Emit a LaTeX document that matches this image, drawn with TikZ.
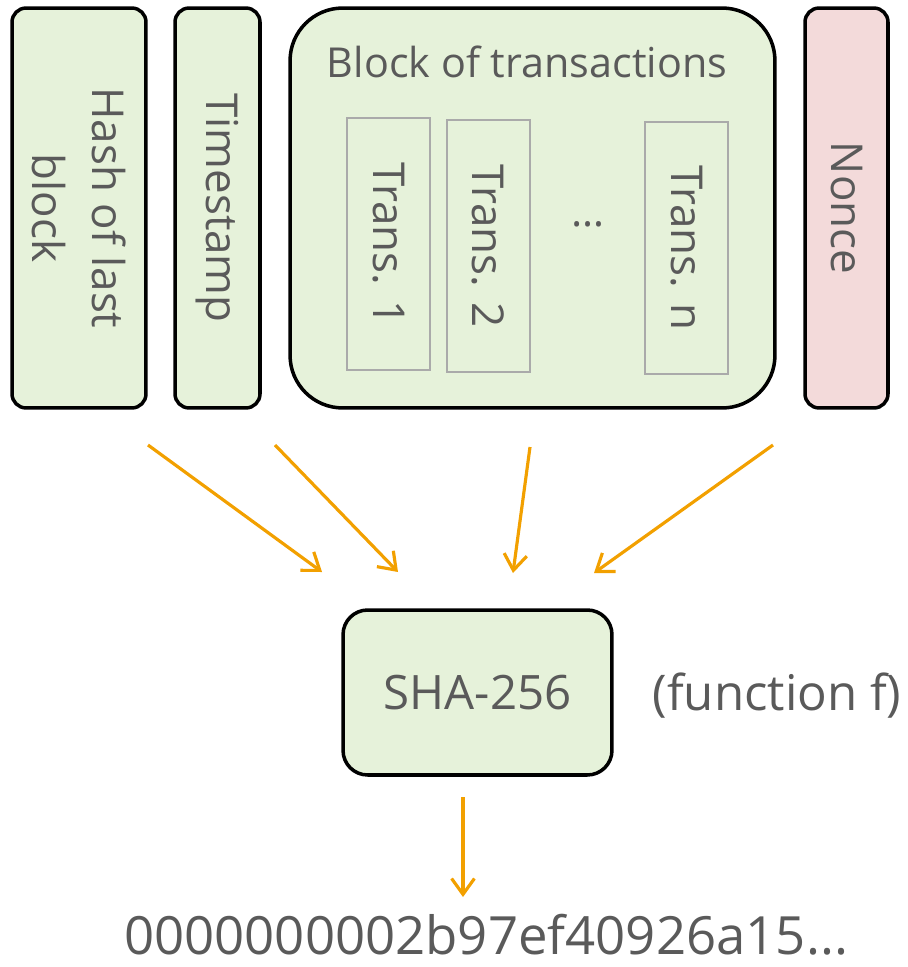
\documentclass[tikz,border=0pt]{standalone}
\usepackage{fontspec}
\setmainfont{Open Sans}
\usepackage{tikz}
\usetikzlibrary{arrows.meta, positioning}
\definecolor{fieldgreen}{RGB}{230,242,218}
\definecolor{noncepink}{RGB}{243,218,218}
\definecolor{flowline}{RGB}{242,160,0}
\definecolor{gray90}{RGB}{90,90,90}
\definecolor{gray170}{RGB}{170,170,170}

\tikzset{
  field/.style={draw=black, line width=2pt, fill=fieldgreen,
    rounded corners=8pt, inner sep=0pt, text=gray90, align=center,
    font=\fontsize{25}{34}\selectfont},
  transbox/.style={draw=gray170, line width=0.9pt, inner sep=0pt,
    rotate=-90, minimum width=5.04cm, minimum height=1.66cm,
    text=gray90, font=\fontsize{25}{30}\selectfont},
  flow/.style={draw=flowline, line width=1.8pt,
    -{Straight Barb[length=9pt,width=13pt]}},
  caption/.style={text=gray90, font=\fontsize{28}{34}\selectfont}
}

\begin{document}
\begin{tikzpicture}[x=0.02cm, y=-0.02cm]
    \useasboundingbox (0,0) rectangle (908,967);

    % header fields
    \node[field, rotate=-90, minimum width=8cm, minimum height=2.68cm]
      (hash) at (79,208) {Hash of last\\block};
    \node[field, rotate=-90, minimum width=8cm, minimum height=1.7cm]
      (stamp) at (217.5,208) {Timestamp};
    \node[field, rounded corners=30pt, minimum width=9.7cm, minimum height=8cm]
      (block) at (532.5,208) {};
    \node[field, fill=noncepink, rotate=-90, minimum width=8cm, minimum height=1.66cm]
      (nonce) at (846.5,208) {Nonce};

    % transactions inside the block
    \node[caption, font=\fontsize{23.5}{30}\selectfont, anchor=base]
      (blocktitle) at (527,77) {Block of transactions};
    \node[transbox] (t1) at (388.5,244) {Trans. 1};
    \node[transbox] (t2) at (488.5,246) {Trans. 2};
    \node[transbox] (tn) at (686.5,248) {Trans. n};
    \node[caption, font=\fontsize{24}{30}\selectfont, anchor=base]
      (tdots) at (588,226) {…};

    % hash function
    \node[field, rounded corners=14pt, minimum width=5.38cm, minimum height=3.3cm,
      font=\fontsize{27}{32}\selectfont] (sha) at (477.5,692.5) {SHA-256};
    \node[caption, anchor=base] (fnote) at (777,710) {(function f)};
    \node[caption, font=\fontsize{30}{36}\selectfont, anchor=base]
      (digest) at (486,954) {0000000002b97ef40926a15...};

    % inputs and output
    \coordinate (in1) at (148,445);  \coordinate (to1) at (322,572);
    \coordinate (in2) at (275,445);  \coordinate (to2) at (398,572);
    \coordinate (in3) at (530,447);  \coordinate (to3) at (513,573);
    \coordinate (in4) at (773,445);  \coordinate (to4) at (594,573);
    \coordinate (out) at (463,797);  \coordinate (res) at (463,897);
    \draw[flow] (in1) -- (to1);
    \draw[flow] (in2) -- (to2);
    \draw[flow] (in3) -- (to3);
    \draw[flow] (in4) -- (to4);
    \draw[flow] (out) -- (res);
\end{tikzpicture}
\end{document}
